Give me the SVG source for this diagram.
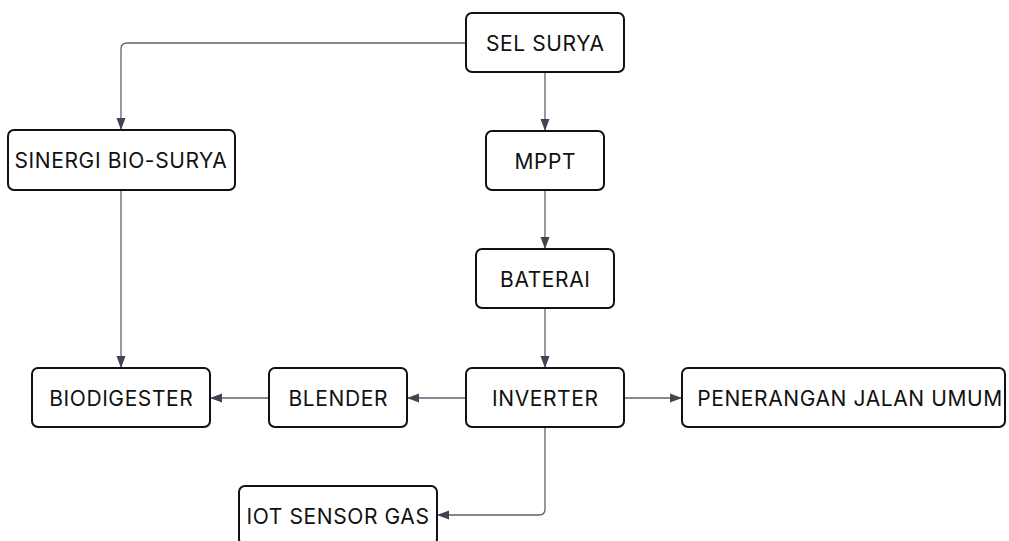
<svg xmlns="http://www.w3.org/2000/svg" width="1009" height="541" viewBox="0 0 1009 541">
<style>
.box{fill:#fff;stroke:#111;stroke-width:2}
.lbl{font-family:Inter,"Liberation Sans",sans-serif;font-size:21px;letter-spacing:0.6px;fill:#111;text-anchor:middle;dominant-baseline:central}
.edge{fill:none;stroke:#5c626c;stroke-width:1.3}
</style>
<defs>
<marker id="ah" viewBox="0 0 12 10" refX="12" refY="5" markerWidth="12" markerHeight="10" markerUnits="userSpaceOnUse" orient="auto">
<path d="M0,0.5 L12,5 L0,9.5 Z" fill="#3f4550"/>
</marker>
</defs>
<rect width="1009" height="541" fill="#fff"/>
<g id="connectors">
<path class="edge" d="M466,43 H127 Q121,43 121,49 V130" marker-end="url(#ah)"/>
<path class="edge" d="M545,72 V131" marker-end="url(#ah)"/>
<path class="edge" d="M545,190 V249" marker-end="url(#ah)"/>
<path class="edge" d="M545,308 V368" marker-end="url(#ah)"/>
<path class="edge" d="M121,190 V368" marker-end="url(#ah)"/>
<path class="edge" d="M466,398 H407" marker-end="url(#ah)"/>
<path class="edge" d="M269,398 H210" marker-end="url(#ah)"/>
<path class="edge" d="M624,398 H682" marker-end="url(#ah)"/>
<path class="edge" d="M545,427 V509 Q545,515 539,515 H437" marker-end="url(#ah)"/>
</g>
<g id="sel-surya"><rect class="box" x="466" y="13" width="158" height="59" rx="6"/><text class="lbl" x="545.3" y="43">SEL SURYA</text></g>
<g id="sinergi"><rect class="box" x="8" y="130" width="227" height="60" rx="6"/><text class="lbl" x="121" y="160">SINERGI BIO-SURYA</text></g>
<g id="mppt"><rect class="box" x="486" y="131" width="118" height="59" rx="6"/><text class="lbl" x="545.3" y="161">MPPT</text></g>
<g id="baterai"><rect class="box" x="476" y="249" width="138" height="59" rx="6"/><text class="lbl" x="545.3" y="279">BATERAI</text></g>
<g id="biodigester"><rect class="box" x="32" y="368" width="178" height="59" rx="6"/><text class="lbl" x="121.3" y="398">BIODIGESTER</text></g>
<g id="blender"><rect class="box" x="269" y="368" width="138" height="59" rx="6"/><text class="lbl" x="338.3" y="398">BLENDER</text></g>
<g id="inverter"><rect class="box" x="466" y="368" width="158" height="59" rx="6"/><text class="lbl" x="545.3" y="398">INVERTER</text></g>
<g id="pju"><rect class="box" x="682" y="368" width="323" height="59" rx="6"/><text class="lbl" x="850" y="398">PENERANGAN JALAN UMUM</text></g>
<g id="iot"><rect class="box" x="239" y="486" width="198" height="59" rx="6"/><text class="lbl" x="338" y="516">IOT SENSOR GAS</text></g>
</svg>
